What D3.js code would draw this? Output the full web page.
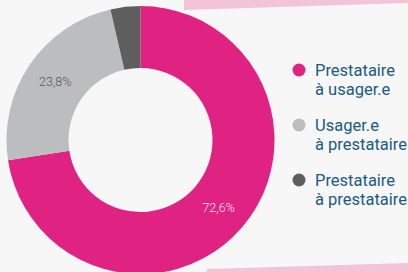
<!DOCTYPE html>
<html>
<head>
<meta charset="utf-8">
<script src="https://cdn.jsdelivr.net/npm/d3@7"></script>
<style>
  html, body { margin: 0; padding: 0; background: #f7f7f7; }
  svg { display: block; font-family: Roboto, "Noto Sans", sans-serif; }
</style>
</head>
<body>
<svg id="chart"></svg>
<script>
const categories = ["Prestataire\nà usager.e", "Usager.e\nà prestataire", "Prestataire\nà prestataire"]
const values = [72.6, 23.8, 3.6]
const labels = ["72,6%", "23,8%", ""]
const colors = ["#e02282", "#bcbdbf", "#5e5e5e"]
const labelColors = ["#fbe3ee", "#58585a", "#fff"]

const width = 408
const height = 272

const svg = d3.select("#chart")
  .attr("width", width)
  .attr("height", height)
  .attr("viewBox", [0, 0, width, height])

svg.append("rect")
  .attr("width", width)
  .attr("height", height)
  .attr("fill", "#f7f7f7")

// pink decorative bands
svg.append("polygon")
  .attr("points", "184,0 408,0 408,3 184,10")
  .attr("fill", "#f3c4d6")
svg.append("polygon")
  .attr("points", "207,272 408,272 408,263 207,269")
  .attr("fill", "#f3c4d6")

const cx = 140.5, cy = 140
const outerR = 134, innerR = 72

const pie = d3.pie().sort(null).value(d => d)
const arc = d3.arc().innerRadius(innerR).outerRadius(outerR)
const arcs = pie(values)

const g = svg.append("g").attr("transform", `translate(${cx},${cy})`)

g.selectAll("path")
  .data(arcs)
  .join("path")
  .attr("d", arc)
  .attr("fill", (d, i) => colors[i])

g.selectAll("text")
  .data(arcs)
  .join("text")
  .attr("transform", d => `translate(${arc.centroid(d)})`)
  .attr("text-anchor", "middle")
  .attr("dy", "0.35em")
  .attr("font-size", 12.5)
  .attr("font-weight", 300)
  .attr("fill", (d, i) => labelColors[i])
  .text((d, i) => labels[i])

// legend
const legend = svg.append("g")
  .selectAll("g")
  .data(categories)
  .join("g")
  .attr("transform", (d, i) => `translate(299,${70 + i * 55})`)

legend.append("circle")
  .attr("r", 6.5)
  .attr("fill", (d, i) => colors[i])

legend.append("text")
  .attr("x", 16)
  .attr("y", 6)
  .attr("font-size", 16.5)
  .attr("fill", "#1b5b82")
  .selectAll("tspan")
  .data(d => d.split("\n"))
  .join("tspan")
  .attr("x", 16)
  .attr("dy", (d, i) => i ? 19 : 0)
  .text(d => d)
</script>
</body>
</html>
